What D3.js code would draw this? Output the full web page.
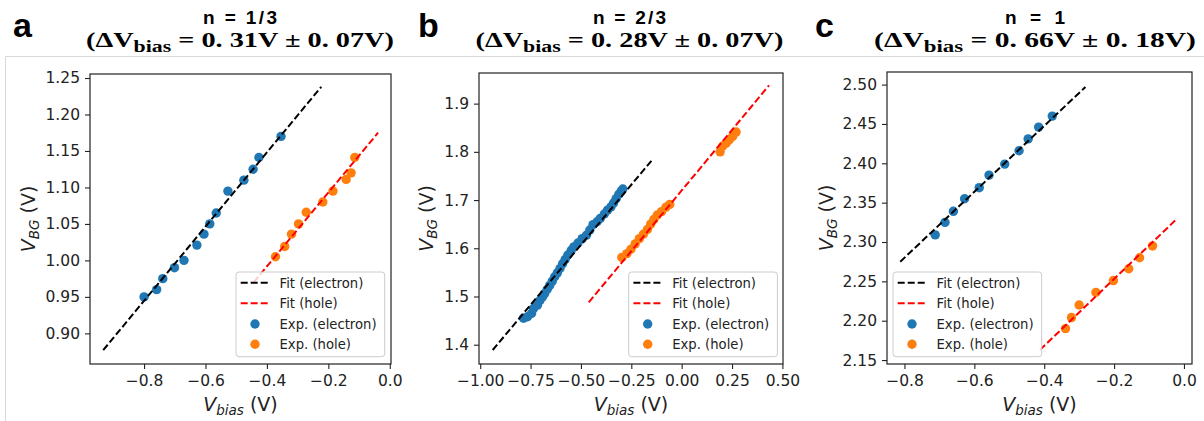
<!DOCTYPE html>
<html><head><meta charset="utf-8">
<script src="https://cdn.jsdelivr.net/npm/d3@7"></script>
<style>body{margin:0;background:#fff} svg{display:block}</style>
</head><body><svg id="chart" width="1204" height="421"></svg>
<script>
// ---------- data ----------
const panelLetters = ["a", "b", "c"];
const titleN = ["n = 1/3", "n = 2/3", "n = 1"];
const titleDV = ["0. 31V", "0. 28V", "0. 66V"];
const titleErr = ["0. 07V", "0. 07V", "0. 18V"];
const legendLabels = ["Fit (electron)", "Fit (hole)", "Exp. (electron)", "Exp. (hole)"];

// panel a
const aXTicks = [-0.8, -0.6, -0.4, -0.2, 0.0];
const aYTicks = [0.90, 0.95, 1.00, 1.05, 1.10, 1.15, 1.20, 1.25];
const aElecX = [-0.800, -0.759, -0.739, -0.701, -0.670, -0.628, -0.605, -0.586, -0.565, -0.527, -0.475, -0.445, -0.426, -0.354];
const aElecY = [0.950, 0.960, 0.975, 0.990, 1.000, 1.021, 1.036, 1.050, 1.065, 1.095, 1.110, 1.125, 1.141, 1.170];
const aHoleX = [-0.372, -0.342, -0.320, -0.297, -0.272, -0.218, -0.185, -0.142, -0.126, -0.114];
const aHoleY = [1.005, 1.019, 1.036, 1.050, 1.066, 1.080, 1.095, 1.111, 1.120, 1.141];
const aFitElecX = [-0.933, -0.223], aFitElecY = [0.877, 1.238];
const aFitHoleX = [-0.443, -0.038], aFitHoleY = [0.970, 1.175];

// panel b
const bXTicks = [-1.00, -0.75, -0.50, -0.25, 0.00, 0.25, 0.50];
const bYTicks = [1.4, 1.5, 1.6, 1.7, 1.8, 1.9];
const bElecX = [-0.785, -0.765, -0.745, -0.735, -0.716, -0.703, -0.691, -0.680, -0.667, -0.655, -0.642, -0.630, -0.617, -0.604, -0.591, -0.578, -0.565, -0.548, -0.535, -0.515, -0.494, -0.473, -0.456, -0.440, -0.420, -0.404, -0.384, -0.368, -0.351, -0.338, -0.325, -0.312, -0.299, -0.292];
const bElecY = [1.455, 1.458, 1.465, 1.475, 1.482, 1.492, 1.499, 1.506, 1.515, 1.523, 1.532, 1.541, 1.549, 1.558, 1.568, 1.577, 1.586, 1.596, 1.603, 1.611, 1.620, 1.627, 1.638, 1.649, 1.655, 1.662, 1.671, 1.679, 1.686, 1.694, 1.703, 1.712, 1.719, 1.723];
const bHoleX = [-0.297, -0.272, -0.252, -0.231, -0.210, -0.190, -0.170, -0.154, -0.138, -0.121, -0.100, -0.078, -0.059, 0.191, 0.204, 0.221, 0.237, 0.253, 0.270];
const bHoleY = [1.581, 1.589, 1.598, 1.609, 1.620, 1.629, 1.639, 1.650, 1.660, 1.669, 1.676, 1.685, 1.691, 1.800, 1.812, 1.818, 1.825, 1.832, 1.841];
const bFitElecX = [-0.938, -0.141], bFitElecY = [1.389, 1.786];
const bFitHoleX = [-0.461, 0.434], bFitHoleY = [1.488, 1.938];

// panel c
const cXTicks = [-0.8, -0.6, -0.4, -0.2, 0.0];
const cYTicks = [2.15, 2.20, 2.25, 2.30, 2.35, 2.40, 2.45, 2.50];
const cElecX = [-0.712, -0.684, -0.660, -0.628, -0.586, -0.558, -0.513, -0.472, -0.446, -0.416, -0.377];
const cElecY = [2.309, 2.325, 2.339, 2.355, 2.369, 2.385, 2.399, 2.416, 2.431, 2.446, 2.460];
const cHoleX = [-0.339, -0.322, -0.300, -0.252, -0.202, -0.158, -0.127, -0.090];
const cHoleY = [2.190, 2.204, 2.220, 2.236, 2.251, 2.266, 2.280, 2.295];
const cFitElecX = [-0.812, -0.282], cFitElecY = [2.275, 2.497];
const cFitHoleX = [-0.412, -0.019], cFitHoleY = [2.163, 2.330];

// ---------- layout / style ----------
const BLUE = "#1f77b4", ORANGE = "#ff7f0e", RED = "#ff0000", BLACK = "#000000", INK = "#222";
const layout = [
  {box: [90, 74, 391, 364], xDom: [-0.976, 0.004], yDom: [0.858, 1.2555], xFmt: ".1f", yFmt: ".2f", legX: 236, ylabX: 35, letterX: 13, titleCx: 240, w1: 74, w2: 308},
  {box: [479, 73, 783, 364], xDom: [-1.006, 0.503], yDom: [1.36, 1.9635], xFmt: ".2f", yFmt: ".1f", legX: 628.7, ylabX: 433, letterX: 418, titleCx: 629.5, w1: 73, w2: 308},
  {box: [887, 72, 1192, 364], xDom: [-0.850, 0.023], yDom: [2.145, 2.516], xFmt: ".1f", yFmt: ".2f", legX: 893, ylabX: 833, letterX: 815, titleCx: 1035, w1: 60, w2: 322}
];
const panelData = [
  {xt: aXTicks, yt: aYTicks, ex: aElecX, ey: aElecY, hx: aHoleX, hy: aHoleY, fex: aFitElecX, fey: aFitElecY, fhx: aFitHoleX, fhy: aFitHoleY},
  {xt: bXTicks, yt: bYTicks, ex: bElecX, ey: bElecY, hx: bHoleX, hy: bHoleY, fex: bFitElecX, fey: bFitElecY, fhx: bFitHoleX, fhy: bFitHoleY},
  {xt: cXTicks, yt: cYTicks, ex: cElecX, ey: cElecY, hx: cHoleX, hy: cHoleY, fex: cFitElecX, fey: cFitElecY, fhx: cFitHoleX, fhy: cFitHoleY}
];

const svg = d3.select("#chart");
svg.append("rect").attr("width", 1204).attr("height", 421).attr("fill", "#fff");
// thin grey frame from the source figure
svg.append("path").attr("d", "M5.5,421 V56.5 H1204").attr("fill", "none").attr("stroke", "#d9d9d9").attr("stroke-width", 1);

const TICKFONT = "'DejaVu Sans', sans-serif";

panelLetters.forEach((letter, i) => {
  const L = layout[i], D = panelData[i];
  const [x0, y0, x1, y1] = L.box;
  const x = d3.scaleLinear().domain(L.xDom).range([x0, x1]);
  const y = d3.scaleLinear().domain(L.yDom).range([y1, y0]);
  const g = svg.append("g");

  // axes
  const xAxis = d3.axisBottom(x).tickValues(D.xt).tickFormat(d3.format(L.xFmt)).tickSize(5).tickPadding(6);
  const yAxis = d3.axisLeft(y).tickValues(D.yt).tickFormat(d3.format(L.yFmt)).tickSize(5).tickPadding(5);
  const gx = g.append("g").attr("transform", `translate(0,${y1})`).call(xAxis);
  const gy = g.append("g").attr("transform", `translate(${x0},0)`).call(yAxis);
  [gx, gy].forEach(a => {
    a.select(".domain").remove();
    a.selectAll(".tick line").attr("stroke", INK).attr("stroke-width", 1.1);
    a.selectAll(".tick text").attr("fill", INK).style("font-family", TICKFONT).style("font-size", "15.5px");
  });

  // scatter points (below lines, as in matplotlib)
  g.append("g").selectAll("circle").data(D.ex.map((v, k) => [v, D.ey[k]])).join("circle")
    .attr("cx", d => x(d[0])).attr("cy", d => y(d[1])).attr("r", 4.7).attr("fill", BLUE);
  g.append("g").selectAll("circle").data(D.hx.map((v, k) => [v, D.hy[k]])).join("circle")
    .attr("cx", d => x(d[0])).attr("cy", d => y(d[1])).attr("r", 4.7).attr("fill", ORANGE);

  // fit lines
  const line = d3.line().x(d => x(d[0])).y(d => y(d[1]));
  g.append("path").attr("d", line(D.fex.map((v, k) => [v, D.fey[k]])))
    .attr("fill", "none").attr("stroke", BLACK).attr("stroke-width", 2).attr("stroke-dasharray", "7,3");
  g.append("path").attr("d", line(D.fhx.map((v, k) => [v, D.fhy[k]])))
    .attr("fill", "none").attr("stroke", RED).attr("stroke-width", 2).attr("stroke-dasharray", "7,3");

  // frame
  g.append("rect").attr("x", x0).attr("y", y0).attr("width", x1 - x0).attr("height", y1 - y0)
    .attr("fill", "none").attr("stroke", INK).attr("stroke-width", 1.2);

  // legend
  const lg = g.append("g").attr("transform", `translate(${L.legX},272)`);
  lg.append("rect").attr("width", 148.7).attr("height", 84.7).attr("rx", 3)
    .attr("fill", "#fff").attr("fill-opacity", 0.8).attr("stroke", "#cccccc").attr("stroke-width", 1);
  const rowsY = [10.7, 31.3, 52, 72.3];
  const kinds = [["line", BLACK], ["line", RED], ["dot", BLUE], ["dot", ORANGE]];
  legendLabels.forEach((lab, k) => {
    const [kind, col] = kinds[k];
    if (kind === "line") {
      lg.append("line").attr("x1", 4.7).attr("x2", 32.7).attr("y1", rowsY[k]).attr("y2", rowsY[k])
        .attr("stroke", col).attr("stroke-width", 2).attr("stroke-dasharray", "7,3");
    } else {
      lg.append("circle").attr("cx", 19).attr("cy", rowsY[k]).attr("r", 4.7).attr("fill", col);
    }
    lg.append("text").attr("x", 43.5).attr("y", rowsY[k] + 4.8).text(lab)
      .attr("fill", INK).style("font-family", TICKFONT).style("font-size", "13.2px");
  });

  // axis labels
  const cx = (x0 + x1) / 2, cy = (y0 + y1) / 2;
  const xl = g.append("text").attr("x", cx).attr("y", 411).attr("text-anchor", "middle")
    .attr("fill", INK).style("font-family", TICKFONT).style("font-size", "19px");
  xl.append("tspan").style("font-style", "oblique").text("V");
  xl.append("tspan").style("font-style", "oblique").style("font-size", "13.5px").attr("dy", 4).text("bias");
  xl.append("tspan").attr("dy", -4).text(" (V)");

  const yl = g.append("text").attr("transform", `translate(${L.ylabX},${cy}) rotate(-90)`).attr("text-anchor", "middle")
    .attr("fill", INK).style("font-family", TICKFONT).style("font-size", "19px");
  yl.append("tspan").style("font-style", "oblique").text("V");
  yl.append("tspan").style("font-style", "oblique").style("font-size", "13.5px").attr("dy", 4).text("BG");
  yl.append("tspan").attr("dy", -4).text(" (V)");

  // panel letter
  svg.append("text").attr("x", L.letterX).attr("y", 37).text(letter)
    .style("font-family", "'Liberation Sans', Arial, sans-serif").style("font-weight", "bold").style("font-size", "34px").attr("fill", "#000");

  // title line 1
  svg.append("text").attr("x", L.titleCx).attr("y", 23.5).attr("text-anchor", "middle")
    .attr("textLength", L.w1).attr("lengthAdjust", "spacing")
    .style("font-family", "'Liberation Sans', Arial, sans-serif").style("font-weight", "bold").style("font-size", "19px")
    .attr("fill", "#000").text(titleN[i]);

  // title line 2
  const t2 = svg.append("text").attr("x", L.titleCx).attr("y", 47).attr("text-anchor", "middle")
    .style("font-family", "'Liberation Serif', 'Times New Roman', serif").style("font-weight", "bold").style("font-size", "22px").attr("fill", "#000");
  t2.append("tspan").text("(ΔV");
  t2.append("tspan").style("font-size", "17px").attr("dy", 5).text("bias");
  t2.append("tspan").attr("dy", -5).text(" = " + titleDV[i] + " ± " + titleErr[i] + ")");
  const bw = t2.node().getBBox().width;
  const s = L.w2 / bw;
  t2.attr("transform", `translate(${L.titleCx},0) scale(${s},1) translate(${-L.titleCx},0)`);
});
</script></body></html>
